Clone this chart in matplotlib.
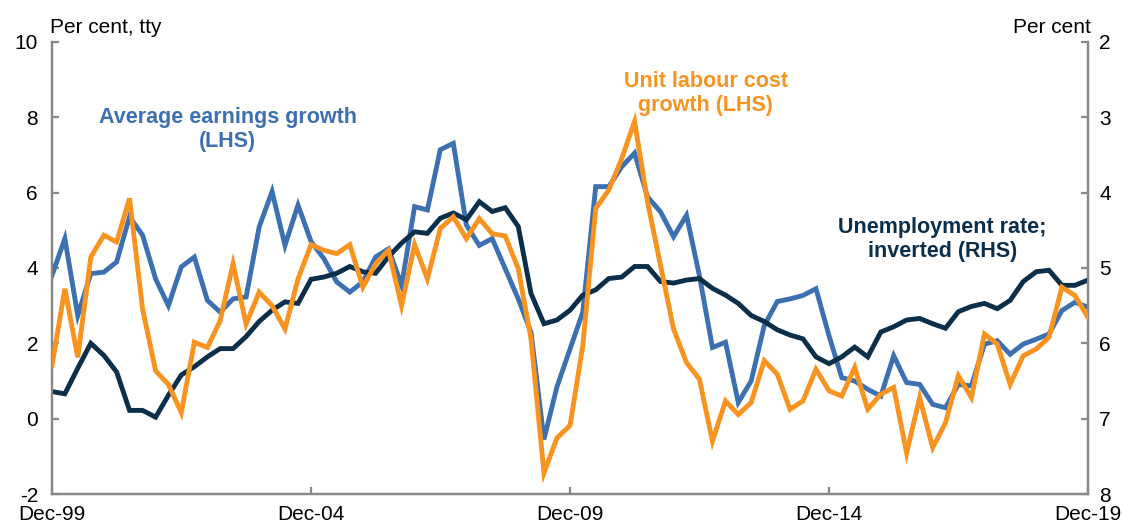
import numpy as np
import pandas as pd
import matplotlib
matplotlib.use("Agg")
import matplotlib.pyplot as plt
import matplotlib.dates as mdates

plt.rcParams['font.family'] = ['Liberation Sans', 'DejaVu Sans']
plt.rcParams['axes.unicode_minus'] = False

# quarterly, Dec-99 to Dec-19
dates = pd.date_range('1999-12-31', '2019-12-31', freq='QE')

avg_earnings = [3.80, 4.78, 2.74, 3.85, 3.89, 4.16, 5.36, 4.87, 3.71, 3.00,
                4.03, 4.29, 3.14, 2.83, 3.18, 3.23, 5.09, 6.03, 4.60, 5.67,
                4.70, 4.25, 3.63, 3.36, 3.63, 4.29, 4.51, 3.54, 5.63, 5.54,
                7.14, 7.31, 5.14, 4.60, 4.78, 3.98, 3.18, 2.29, -0.55, 0.85,
                1.85, 2.83, 6.16, 6.16, 6.69, 7.05, 5.89, 5.49, 4.83, 5.40,
                3.80, 1.89, 2.03, 0.43, 1.00, 2.47, 3.11, 3.18, 3.27, 3.45,
                2.20, 1.09, 1.00, 0.78, 0.60, 1.67, 0.96, 0.91, 0.38, 0.29,
                0.91, 0.87, 1.98, 2.07, 1.71, 1.98, 2.11, 2.25, 2.87, 3.09,
                2.96]

ulc_growth = [1.40, 3.45, 1.63, 4.29, 4.87, 4.69, 5.85, 2.91, 1.27, 0.91,
              0.16, 2.03, 1.89, 2.60, 4.11, 2.51, 3.36, 3.00, 2.38, 3.71,
              4.62, 4.47, 4.38, 4.62, 3.49, 4.11, 4.47, 3.00, 4.62, 3.71,
              5.05, 5.36, 4.78, 5.31, 4.91, 4.85, 3.98, 2.11, -1.44, -0.51,
              -0.18, 1.94, 5.58, 6.07, 6.91, 7.89, 5.76, 4.07, 2.38, 1.49,
              1.05, -0.60, 0.47, 0.11, 0.43, 1.54, 1.18, 0.25, 0.47, 1.31,
              0.74, 0.60, 1.36, 0.25, 0.65, 0.83, -0.91, 0.56, -0.77, -0.11,
              1.14, 0.56, 2.25, 1.98, 0.91, 1.67, 1.85, 2.16, 3.49, 3.27,
              2.69]

unemployment = [6.64, 6.67, 6.33, 6.00, 6.16, 6.38, 6.89, 6.89, 6.98, 6.69,
                6.42, 6.31, 6.18, 6.07, 6.07, 5.91, 5.71, 5.56, 5.45, 5.47,
                5.15, 5.12, 5.07, 4.98, 5.05, 5.07, 4.85, 4.67, 4.52, 4.54,
                4.34, 4.27, 4.36, 4.12, 4.25, 4.20, 4.45, 5.34, 5.74, 5.69,
                5.56, 5.36, 5.29, 5.14, 5.12, 4.98, 4.98, 5.18, 5.20, 5.16,
                5.14, 5.27, 5.36, 5.47, 5.63, 5.71, 5.82, 5.89, 5.94, 6.18,
                6.27, 6.18, 6.05, 6.18, 5.85, 5.78, 5.69, 5.67, 5.74, 5.80,
                5.58, 5.51, 5.47, 5.54, 5.43, 5.18, 5.05, 5.03, 5.23, 5.23,
                5.16]

tick_years = [1999, 2004, 2009, 2014, 2019]

BLUE = '#3C70B1'
ORANGE = '#F7931E'
NAVY = '#0B2E4A'
GREY = '#888888'

fig = plt.figure(figsize=(11.22, 5.30), dpi=100)
ax = fig.add_axes([0.0463, 0.0679, 0.9234, 0.8529])
ax2 = ax.twinx()

ax.set_xlim(dates[0], dates[-1])
ax.set_ylim(-2, 10)
ax.set_yticks(range(-2, 11, 2))
ax2.set_ylim(8, 2)
ax2.set_yticks(range(2, 9))

# draw order: blue under navy, orange on top; navy uses the RHS scale
ax.plot(dates, avg_earnings, color=BLUE, lw=3.5, solid_joinstyle='miter', zorder=2)
ax.plot(dates, unemployment, color=NAVY, lw=3.5, solid_joinstyle='miter',
        transform=ax2.transData, zorder=2.5)
ax.plot(dates, ulc_growth, color=ORANGE, lw=3.5, solid_joinstyle='miter', zorder=3)
ax.set_ylim(-2, 10)

ax.set_xticks([pd.Timestamp(f'{y}-12-31') for y in tick_years])
ax.xaxis.set_major_formatter(mdates.DateFormatter('Dec-%y'))

for a in (ax, ax2):
    a.spines['top'].set_visible(False)
    for s in ('left', 'right', 'bottom'):
        a.spines[s].set_color(GREY)
        a.spines[s].set_linewidth(1.6)
    a.tick_params(direction='in', length=5, width=1.6, color=GREY,
                  labelsize=15, labelcolor='black')
ax.tick_params(axis='x', pad=8)
ax.tick_params(axis='y', pad=10)
ax2.tick_params(axis='y', pad=8)

# keep the lines above the twin axes
ax.set_zorder(ax2.get_zorder() + 1)
ax.patch.set_visible(False)

fig.text(0.045, 0.948, 'Per cent, tty', fontsize=15, ha='left', va='center')
fig.text(0.972, 0.948, 'Per cent', fontsize=15, ha='right', va='center')

ax.text(0.203, 0.756, 'Average earnings growth\n(LHS)', transform=fig.transFigure,
        color=BLUE, fontsize=15.5, fontweight='bold', ha='center', va='center',
        linespacing=1.2)
ax.text(0.629, 0.824, 'Unit labour cost\ngrowth (LHS)', transform=fig.transFigure,
        color=ORANGE, fontsize=15.5, fontweight='bold', ha='center', va='center',
        linespacing=1.2)
ax.text(0.840, 0.548, 'Unemployment rate;\ninverted (RHS)', transform=fig.transFigure,
        color=NAVY, fontsize=15.5, fontweight='bold', ha='center', va='center',
        linespacing=1.2)

fig.savefig('out.png', dpi=100)
